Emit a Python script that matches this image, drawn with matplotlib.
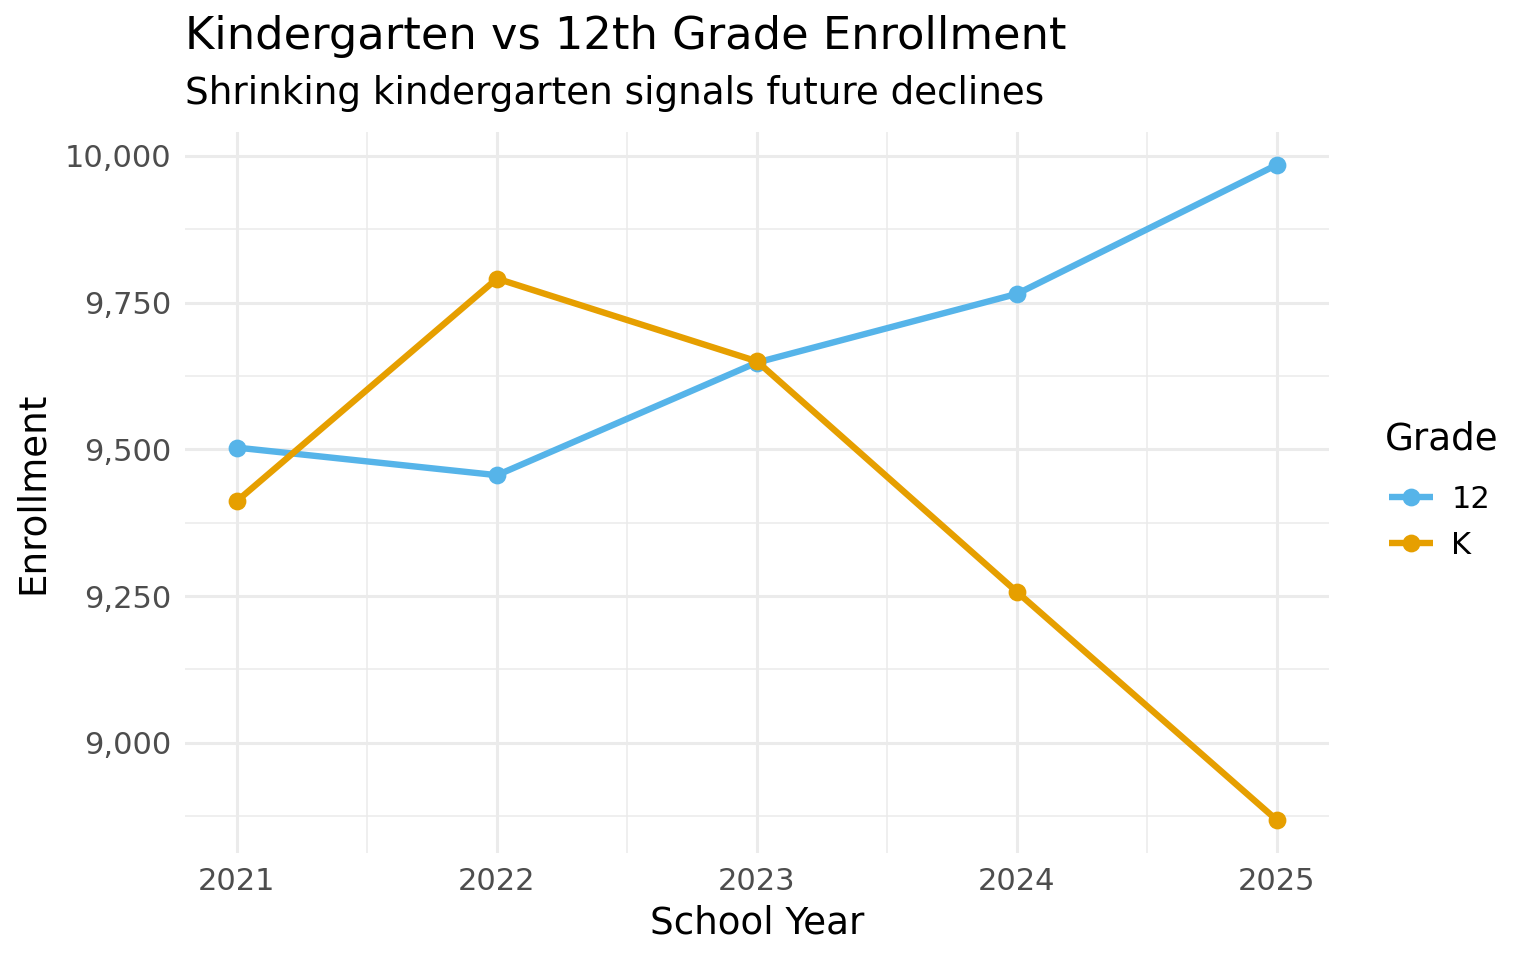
import matplotlib
matplotlib.use("Agg")
import matplotlib.pyplot as plt
from matplotlib.ticker import FuncFormatter, MultipleLocator

years = [2021, 2022, 2023, 2024, 2025]
grade12 = [9503, 9456, 9648, 9765, 9985]
kinder = [9412, 9791, 9650, 9257, 8868]
series_names = ["12", "K"]
colors = ["#56B4E9", "#E69F00"]

fig = plt.figure(figsize=(7.68, 4.8), dpi=200)
ax = fig.add_axes([185 / 1536, 1 - 853 / 960, (1329 - 185) / 1536, (853 - 132) / 960])

for vals, name, c in zip([grade12, kinder], series_names, colors):
    ax.plot(years, vals, color=c, lw=2.3, marker="o", ms=5.4,
            label=name, solid_capstyle="butt", zorder=3)

allv = grade12 + kinder
lo, hi = min(allv), max(allv)
pad = (hi - lo) * 0.05
ax.set_ylim(lo - pad, hi + pad)
ax.set_xlim(years[0] - 0.2, years[-1] + 0.2)

ax.xaxis.set_major_locator(MultipleLocator(1))
ax.xaxis.set_minor_locator(MultipleLocator(0.5))
ax.yaxis.set_major_locator(MultipleLocator(250))
ax.yaxis.set_minor_locator(MultipleLocator(125))
ax.yaxis.set_major_formatter(FuncFormatter(lambda v, p: f"{int(v):,}"))
ax.xaxis.set_major_formatter(FuncFormatter(lambda v, p: f"{int(v)}"))

ax.grid(which="major", color="#EBEBEB", lw=1.1)
ax.grid(which="minor", color="#EBEBEB", lw=0.55)
ax.set_axisbelow(True)
for s in ax.spines.values():
    s.set_visible(False)
ax.tick_params(which="both", length=0)
ax.tick_params(axis="both", labelsize=11.0, labelcolor="#4D4D4D")
ax.tick_params(axis="x", pad=5)
ax.tick_params(axis="y", pad=5)

ax.set_xlabel("School Year", fontsize=13.4, labelpad=3)
ax.set_ylabel("Enrollment", fontsize=13.4, labelpad=4.8)

fig.text(185 / 1536, 1 - 37 / 960, "Kindergarten vs 12th Grade Enrollment",
         fontsize=16.1, ha="left", va="center")
fig.text(185 / 1536, 1 - 93 / 960, "Shrinking kindergarten signals future declines",
         fontsize=13.4, ha="left", va="center")

leg = fig.legend(loc="upper left", bbox_to_anchor=(0.8835, 0.591),
                 title="Grade", frameon=False, fontsize=11.0,
                 title_fontsize=13.4, handlelength=1.45, handletextpad=0.6,
                 labelspacing=0.55)
leg._legend_box.align = "left"
leg._legend_box.sep = 8.5
# nudge handles a touch right like the reference key
leg._legend_handle_box.pad = 1.5

fig.savefig("out.png", dpi=200, facecolor="white")
